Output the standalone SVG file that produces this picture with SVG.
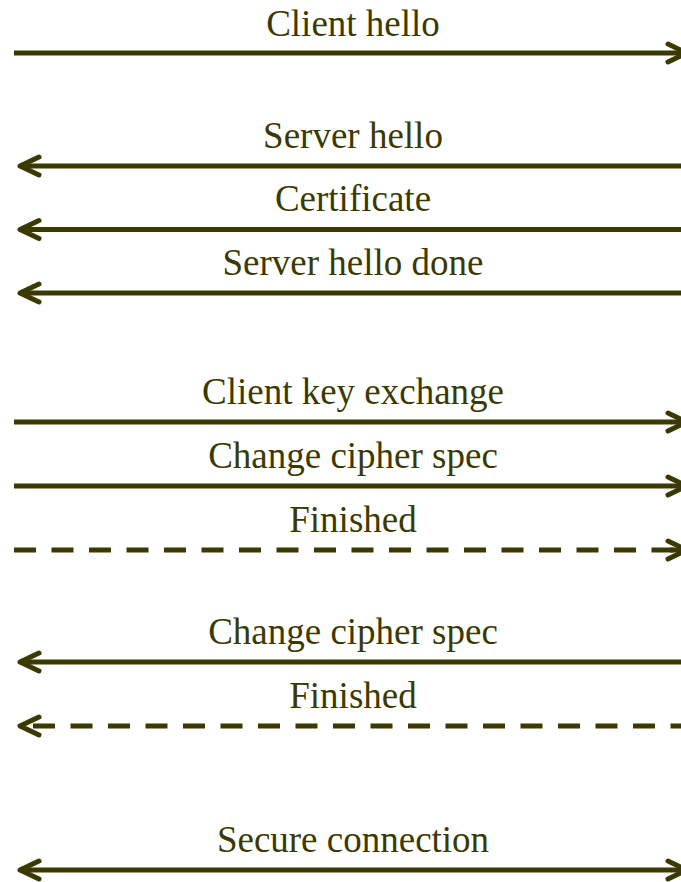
<svg xmlns="http://www.w3.org/2000/svg" width="681" height="882" viewBox="0 0 681 882">
<style>
.ln{stroke:#3a3a00;stroke-width:5;fill:none}
.ds{stroke-dasharray:22 15.5}
.ah{stroke:#3a3a00;stroke-width:5;fill:none;stroke-linecap:round;stroke-linejoin:round}
text{font-family:"Liberation Serif","Times New Roman",serif;font-size:37px;fill:#3a3a00;text-anchor:middle}
</style>
<defs>
<marker id="arr" markerUnits="userSpaceOnUse" viewBox="-30 -15 36 30" markerWidth="36" markerHeight="30" refX="0" refY="0" orient="auto-start-reverse" overflow="visible">
<path class="ah" d="M-19 -9 L0 0 L-19 9"/>
</marker>
</defs>
<g id="connectors">
<path id="c1" class="ln" d="M14 53 H687" marker-end="url(#arr)"/>
<path id="c2" class="ln" d="M20 166 H681" marker-start="url(#arr)"/>
<path id="c3" class="ln" d="M20 229.5 H681" marker-start="url(#arr)"/>
<path id="c4" class="ln" d="M20 293 H681" marker-start="url(#arr)"/>
<path id="c5" class="ln" d="M14 422 H687" marker-end="url(#arr)"/>
<path id="c6" class="ln" d="M14 486 H687" marker-end="url(#arr)"/>
<path id="c7" class="ln ds" d="M14 550 H687" marker-end="url(#arr)"/>
<path class="ln" d="M670 550 H687"/>
<path id="c8" class="ln" d="M20 662 H681" marker-start="url(#arr)"/>
<path id="c9" class="ln ds" d="M33 726 H681"/>
<path class="ah" d="M39 717 L20 726 L39 735"/>
<path id="c10" class="ln" d="M20 870 H687" marker-start="url(#arr)" marker-end="url(#arr)"/>
</g>
<g id="labels">
<text id="t1" x="353" y="36">Client hello</text>
<text id="t2" x="353" y="148">Server hello</text>
<text id="t3" x="353" y="211">Certificate</text>
<text id="t4" x="353" y="275">Server hello done</text>
<text id="t5" x="353" y="404">Client key exchange</text>
<text id="t6" x="353" y="468">Change cipher spec</text>
<text id="t7" x="353" y="532">Finished</text>
<text id="t8" x="353" y="644">Change cipher spec</text>
<text id="t9" x="353" y="708">Finished</text>
<text id="t10" x="353" y="852">Secure connection</text>
</g>
</svg>
